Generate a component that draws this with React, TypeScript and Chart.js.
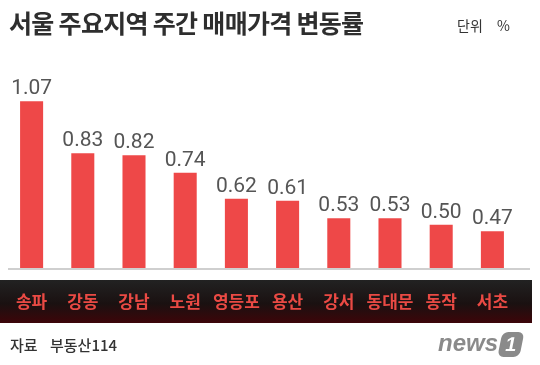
import React, { useEffect, useRef } from 'react';
import { Chart, registerables } from 'chart.js';

Chart.register(...registerables);

const categories = ['송파', '강동', '강남', '노원', '영등포', '용산', '강서', '동대문', '동작', '서초'];
const values = [1.07, 0.83, 0.82, 0.74, 0.62, 0.61, 0.53, 0.53, 0.5, 0.47];
const titleText = '서울 주요지역 주간 매매가격 변동률';
const unitLabel = '단위';
const unitSymbol = '%';
const sourceLabel = '자료';
const sourceName = '부동산114';

const KR = '"Noto Sans CJK KR", "Noto Sans", sans-serif';

const decorPlugin = {
  id: 'decor',
  afterDraw(chart: any) {
    const ctx = chart.ctx as CanvasRenderingContext2D;
    const xs = chart.scales.x;
    const ys = chart.scales.y;
    const area = chart.chartArea;
    ctx.save();

    // title
    ctx.fillStyle = '#2e2e2e';
    ctx.textBaseline = 'middle';
    ctx.textAlign = 'left';
    ctx.font = `bold 25px ${KR}`;
    (ctx as any).letterSpacing = '-0.7px';
    ctx.fillText(titleText, 9, 23);
    (ctx as any).letterSpacing = '0px';

    // unit
    ctx.font = `14px ${KR}`;
    ctx.fillStyle = '#333';
    ctx.fillText(unitLabel, 457, 26);
    ctx.fillText(unitSymbol, 497, 26);

    // baseline
    ctx.fillStyle = '#cfcfcf';
    ctx.fillRect(8, area.bottom, 522, 2);

    // value labels
    ctx.fillStyle = '#555';
    ctx.font = '21px Roboto, sans-serif';
    ctx.textAlign = 'center';
    ctx.textBaseline = 'alphabetic';
    values.forEach((v, i) => {
      const x = xs.getPixelForValue(i);
      const y = ys.getPixelForValue(v);
      ctx.fillText(v.toFixed(2), x, y - 7);
    });

    // category band
    const g = ctx.createLinearGradient(0, 280, 0, 323);
    g.addColorStop(0, '#222222');
    g.addColorStop(0.55, '#1a1111');
    g.addColorStop(1, '#3d0509');
    ctx.fillStyle = g;
    ctx.fillRect(0, 280, 532, 43);
    ctx.fillStyle = '#ea4a44';
    ctx.font = `bold 17px ${KR}`;
    ctx.textBaseline = 'middle';
    categories.forEach((c, i) => {
      ctx.fillText(c, xs.getPixelForValue(i), 302);
    });

    // source
    ctx.textAlign = 'left';
    ctx.fillStyle = '#333';
    ctx.font = `500 15px ${KR}`;
    ctx.fillText(sourceLabel, 10, 345);
    ctx.fillText(sourceName, 50, 345);

    // logo
    ctx.fillStyle = '#8a8a8a';
    ctx.font = 'italic bold 24px "Liberation Sans", sans-serif';
    ctx.textAlign = 'left';
    ctx.fillText('news', 438, 344);
    ctx.save();
    ctx.translate(510, 344);
    ctx.transform(1, 0, -0.2, 1, 0, 0);
    ctx.beginPath();
    (ctx as any).roundRect(-10, -12, 22, 25, 6);
    ctx.fillStyle = '#8a8a8a';
    ctx.fill();
    ctx.fillStyle = '#fff';
    ctx.font = 'bold 20px "Liberation Sans", sans-serif';
    ctx.textAlign = 'center';
    ctx.fillText('1', 1, 1);
    ctx.restore();

    ctx.restore();
  },
};

export default function App() {
  const ref = useRef<HTMLCanvasElement>(null);
  useEffect(() => {
    if (!ref.current) return;
    const chart = new Chart(ref.current, {
      type: 'bar',
      data: {
        labels: categories,
        datasets: [
          {
            data: values,
            backgroundColor: '#ee4848',
            barPercentage: 0.45,
            categoryPercentage: 1,
          },
        ],
      },
      options: {
        animation: false,
        responsive: false,
        devicePixelRatio: 1,
        layout: { padding: { top: 60, bottom: 97, left: 6, right: 22 } },
        scales: {
          x: { display: false },
          y: { display: false, min: 0.3, max: 1.26 },
        },
        plugins: { legend: { display: false }, tooltip: { enabled: false } },
      },
      plugins: [decorPlugin],
    });
    return () => chart.destroy();
  }, []);
  return (
    <div style={{ position: 'fixed', left: 0, top: 0, width: 540, height: 365, background: '#fff' }}>
      <canvas ref={ref} width={540} height={365} />
    </div>
  );
}
